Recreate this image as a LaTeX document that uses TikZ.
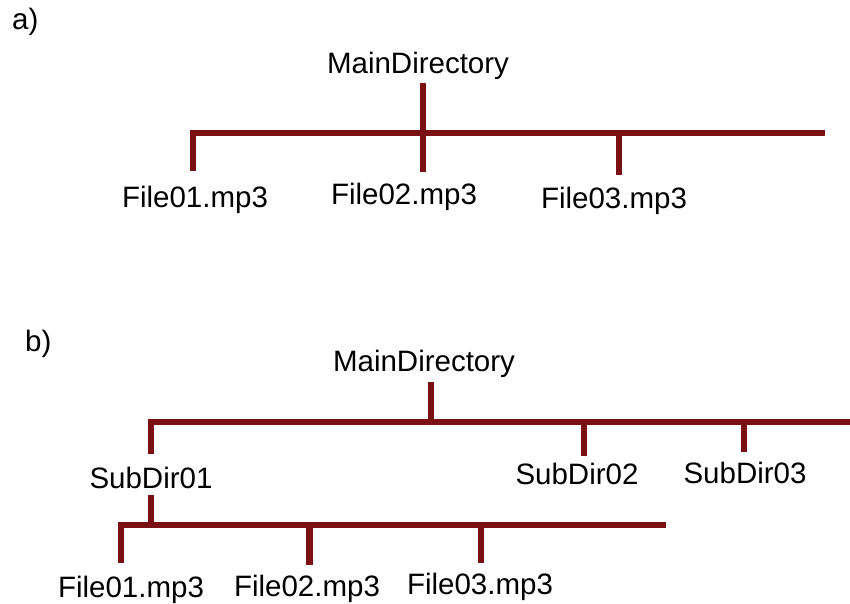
\documentclass[tikz,border=0pt]{standalone}
\usepackage{fontspec}
\setmainfont{Liberation Sans}
\definecolor{barred}{RGB}{122,16,20}
\begin{document}
\begin{tikzpicture}[x=1pt,y=-1pt,
  conn/.style={draw=barred, line width=6.5pt, line cap=butt, line join=miter},
  lbl/.style={anchor=base, inner sep=0pt, font=\fontsize{29.5}{34}\selectfont}]
\useasboundingbox (0,0) rectangle (850,604);

% ---------- part a ----------
\node[lbl, anchor=base west] (tagA) at (12,30) {a)};
\node[lbl] (mainA) at (418,73.5) {MainDirectory};
\node[lbl] (fA1) at (195,207) {File01.mp3};
\node[lbl] (fA2) at (404,204) {File02.mp3};
\node[lbl] (fA3) at (614,208) {File03.mp3};

\coordinate (mA-top) at (423,83);
\coordinate (mA-bot) at (423,172);
\coordinate (jA1) at (193,133);
\coordinate (eA1) at (193,171);
\coordinate (bA-r) at (825,133);
\coordinate (jA3) at (619,133);
\coordinate (eA3) at (619,175);

\draw[conn] (eA1) -- (jA1) -- (bA-r);
\draw[conn] (mA-top) -- (mA-bot);
\draw[conn] (jA3) -- (eA3);

% ---------- part b ----------
\node[lbl, anchor=base west] (tagB) at (25,351) {b)};
\node[lbl] (mainB) at (424,371.5) {MainDirectory};
\node[lbl] (sd1) at (151,488) {SubDir01};
\node[lbl] (sd2) at (577,484) {SubDir02};
\node[lbl] (sd3) at (745,483) {SubDir03};
\node[lbl] (fB1) at (131,597) {File01.mp3};
\node[lbl] (fB2) at (307,596) {File02.mp3};
\node[lbl] (fB3) at (480,594) {File03.mp3};

\coordinate (mB-top) at (431,382);
\coordinate (mB-bot) at (431,422);
\coordinate (jB1) at (151,422);
\coordinate (eB1) at (151,454);
\coordinate (bB-r) at (852,422);
\coordinate (jB2) at (584,422);
\coordinate (eB2) at (584,456);
\coordinate (jB3) at (744,422);
\coordinate (eB3) at (744,452);

\draw[conn] (eB1) -- (jB1) -- (bB-r);
\draw[conn] (mB-top) -- (mB-bot);
\draw[conn] (jB2) -- (eB2);
\draw[conn] (jB3) -- (eB3);

\coordinate (sd1-bot) at (151,495);
\coordinate (jS) at (151,525);
\coordinate (jC1) at (121,525);
\coordinate (eC1) at (121,563);
\coordinate (bC-r) at (666,525);
\coordinate (jC2) at (309.5,525);
\coordinate (eC2) at (309.5,565);
\coordinate (jC3) at (481,525);
\coordinate (eC3) at (481,563);

\draw[conn] (sd1-bot) -- (jS);
\draw[conn] (eC1) -- (jC1) -- (bC-r);
\draw[conn] (jC2) -- (eC2);
\draw[conn] (jC3) -- (eC3);
\end{tikzpicture}
\end{document}
